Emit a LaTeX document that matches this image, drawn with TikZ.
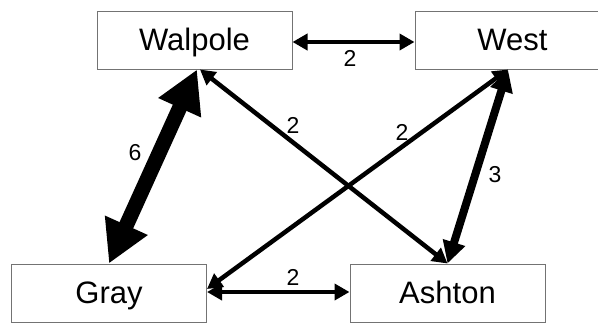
\documentclass[tikz,border=0pt]{standalone}
\usepackage{fontspec}
\setmainfont{Liberation Sans}
\usetikzlibrary{arrows.meta,calc}
\begin{document}
\begin{tikzpicture}[x=1pt,y=-1pt,
  box/.style={draw=black!55,line width=1pt,fill=white,minimum width=195pt,minimum height=58pt,inner sep=0pt,
    text height=24pt,text depth=4pt,font=\fontsize{31}{36}\selectfont},
  lbl/.style={font=\fontsize{23}{26}\selectfont,inner sep=0pt},
  wtwo/.style={line width=4.5pt,{Triangle[length=15pt,width=16pt]}-{Triangle[length=15pt,width=16pt]}},
  wthree/.style={line width=8pt,{Triangle[length=22pt,width=22pt]}-{Triangle[length=22pt,width=22pt]}},
  wsix/.style={line width=15pt,{Triangle[length=42pt,width=44pt]}-{Triangle[length=42pt,width=44pt]}}]
\useasboundingbox (0,0) rectangle (598,322);
\fill[white] (0,0) rectangle (598,322);
\node[box] (walpole) at (194.5,40) {Walpole};
\node[box] (west) at (512.5,40) {West};
\node[box] (gray) at (109,293) {Gray};
\node[box] (ashton) at (447.5,293) {Ashton};
\draw[wtwo] ([yshift=-2pt]walpole.east) -- ([yshift=-2pt]west.west);
\draw[wsix] ([xshift=2.5pt]walpole.south) -- (gray.north);
\draw[wtwo] ([xshift=5.5pt]walpole.south) -- (ashton.north);
\draw[wtwo] ([xshift=-4.5pt]west.south) -- ([yshift=4pt]gray.east);
\draw[wthree] ([xshift=-4.5pt]west.south) -- (ashton.north);
\draw[wtwo] ([yshift=1pt]gray.east) -- ([yshift=1pt]ashton.west);
\node[lbl] (l1) at (350,58) {2};
\node[lbl] (l2) at (135,153) {6};
\node[lbl] (l3) at (293,125) {2};
\node[lbl] (l4) at (402,132) {2};
\node[lbl] (l5) at (495,175) {3};
\node[lbl] (l6) at (293,277) {2};
\end{tikzpicture}
\end{document}
